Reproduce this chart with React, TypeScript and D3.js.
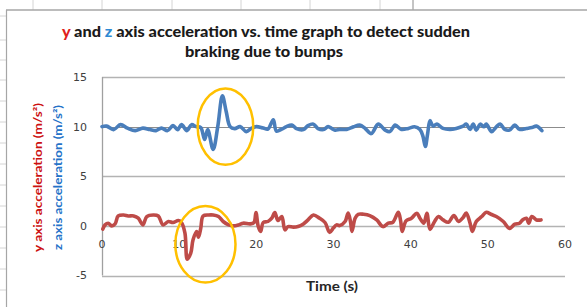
import React from 'react';
import * as d3 from 'd3';

// z axis acceleration (blue)
const timeZ = [0.0, 0.6, 1.5, 2.4, 3.3, 4.3, 5.3, 6.2, 7.0, 7.7, 8.5, 9.2, 9.8, 10.3, 11.0, 11.6, 12.2, 12.8, 13.3, 13.7, 14.4, 15.0, 15.6, 16.1, 16.6, 17.2, 17.9, 18.7, 19.4, 20.0, 20.9, 21.5, 22.2, 22.6, 23.3, 23.9, 24.6, 25.2, 26.1, 26.7, 27.4, 28.0, 28.7, 29.3, 29.8, 30.2, 30.8, 31.7, 32.6, 33.4, 34.1, 34.9, 35.8, 36.7, 37.3, 38.0, 38.8, 39.7, 40.5, 41.2, 41.6, 41.9, 42.2, 42.5, 42.9, 43.4, 44.2, 45.1, 45.9, 46.8, 47.2, 47.7, 48.1, 48.5, 49.0, 49.5, 49.8, 50.5, 51.1, 51.6, 52.2, 52.8, 53.5, 54.1, 55.0, 55.7, 56.3, 57.0];
const accelZ = [10.0, 10.05, 9.7, 10.2, 9.85, 9.6, 9.85, 9.7, 9.6, 9.85, 9.6, 10.1, 9.7, 10.2, 9.6, 10.2, 10.0, 9.9, 8.7, 9.7, 7.7, 10.0, 13.1, 11.5, 10.0, 9.8, 10.0, 9.5, 9.85, 10.0, 9.85, 9.75, 10.7, 9.55, 9.75, 10.0, 10.15, 9.8, 9.7, 10.1, 10.25, 9.8, 9.7, 10.0, 9.8, 9.65, 9.72, 9.72, 9.98, 10.15, 9.82, 9.3, 10.25, 9.65, 9.5, 10.15, 9.72, 9.82, 9.98, 9.72, 9.0, 8.0, 9.3, 10.6, 10.05, 10.25, 9.82, 9.72, 9.82, 10.05, 10.25, 9.72, 10.25, 9.65, 10.25, 9.98, 10.25, 9.5, 9.98, 10.25, 9.72, 9.65, 10.15, 9.72, 9.82, 9.9, 10.05, 9.6];

// y axis acceleration (red)
const timeY = [0.1, 0.4, 0.8, 1.25, 1.7, 2.1, 2.8, 3.4, 4.1, 4.7, 5.3, 5.8, 6.65, 7.3, 7.9, 8.6, 9.2, 9.9, 10.3, 10.75, 11.05, 11.5, 11.8, 12.26, 12.5, 12.8, 13.1, 13.8, 14.4, 15.1, 15.7, 16.4, 17.0, 17.7, 18.3, 19.2, 19.7, 19.95, 20.25, 20.55, 20.9, 21.5, 22.0, 22.4, 22.8, 23.3, 23.7, 24.1, 24.8, 25.4, 26.1, 26.7, 27.4, 28.2, 28.9, 29.5, 30.0, 30.4, 30.8, 31.5, 31.9, 32.2, 32.4, 32.8, 33.2, 33.9, 34.7, 35.6, 36.4, 37.1, 37.7, 38.4, 38.7, 38.9, 39.4, 40.1, 40.8, 41.2, 41.7, 42.1, 42.5, 43.1, 43.6, 44.2, 44.9, 45.6, 46.2, 46.8, 47.2, 47.7, 48.0, 48.5, 49.2, 49.8, 50.4, 51.1, 52.0, 52.8, 53.5, 54.1, 54.5, 55.0, 55.3, 55.7, 56.3, 56.9];
const accelY = [-0.33, 0.1, 0.27, 0.0, 0.2, 1.0, 1.1, 1.0, 1.0, 0.77, 0.1, 0.94, 1.1, 1.0, 0.1, 0.44, 0.34, 0.54, 0.34, -0.74, -3.35, -2.75, -1.4, -0.57, -1.14, -0.23, 1.0, 1.1, 1.1, 0.94, 0.44, 0.1, 0.0, 0.1, 0.27, 0.2, 0.34, 1.34, -0.07, -0.57, 0.34, 0.44, 0.77, 1.34, 0.54, 0.94, -0.4, -0.07, -0.13, -0.07, 0.2, 0.6, 1.1, 0.77, 0.34, -0.65, -0.2, 0.1, 0.03, 0.44, 1.3, 0.44, -0.55, 0.77, 1.17, 1.17, 1.04, 0.6, -0.07, 0.27, 0.37, 1.37, 0.5, -0.55, 0.5, 0.77, 1.27, 0.77, 0.27, 1.27, -0.35, 0.44, 0.94, 0.6, 0.37, 1.04, 0.44, 0.84, 1.3, 0.27, -0.55, 0.44, 0.94, 1.37, 1.17, 0.94, 0.44, -0.25, 0.17, 0.27, 0.6, 0.77, 0.27, 0.94, 0.6, 0.6];

const yTicks = [-5, 0, 5, 10, 15];
const xTicks = [0, 10, 20, 30, 40, 50, 60];

// highlight ellipses: [centerTime, centerValue, radiusTime, radiusValue]
const highlightZ = [16.0, 10.0, 3.6, 3.85];
const highlightY = [13.4, -1.85, 3.9, 3.85];

const sheetCols = [33, 102, 172, 241, 310, 380, 413];
const sheetRows = [16, 40, 60, 80, 101, 122, 143, 164, 185, 206, 227, 248, 269, 290];

export default function App() {
  const W = 587, H = 307;
  const x = d3.scaleLinear().domain([0, 60]).range([102, 565]);
  const y = d3.scaleLinear().domain([-5, 15]).range([275.5, 77]);

  const line = d3
    .line<[number, number]>()
    .x((d) => x(d[0]))
    .y((d) => y(d[1]))
    .curve(d3.curveCatmullRom.alpha(0.5));

  const zPts: [number, number][] = timeZ.map((t, i) => [t, accelZ[i]]);
  const yPts: [number, number][] = timeY.map((t, i) => [t, accelY[i]]);

  const ellipse = (h: number[]) => ({
    cx: x(h[0]),
    cy: y(h[1]),
    rx: x(h[2]) - x(0),
    ry: y(0) - y(h[3]),
  });
  const e1 = ellipse(highlightZ);
  const e2 = ellipse(highlightY);

  const tickFont = "'DejaVu Sans', Verdana, sans-serif";
  const titleFont = "Lato, 'Open Sans', sans-serif";

  return (
    <svg
      width={W}
      height={H}
      style={{ position: 'absolute', left: 0, top: 0, background: '#fff' }}
    >
      <rect x={0} y={0} width={W} height={H} fill="#fff" />
      {/* spreadsheet cell lines behind the chart */}
      {sheetCols.map((c, i) => (
        <line key={'c' + i} x1={c} x2={c} y1={0} y2={10} stroke={c === 413 ? '#8a8a8a' : '#d4d4d4'} strokeWidth={1} />
      ))}
      {sheetRows.map((r, i) => (
        <line key={'r' + i} x1={0} x2={6} y1={r} y2={r} stroke="#d4d4d4" strokeWidth={1} />
      ))}
      {/* chart frame */}
      <line x1={6} x2={W} y1={10} y2={10} stroke="#a6a6a6" strokeWidth={1.5} />
      <line x1={6.5} x2={6.5} y1={10} y2={H} stroke="#a6a6a6" strokeWidth={1.2} />

      {/* title */}
      <text x={266} y={37} textAnchor="middle" fontFamily={titleFont} fontWeight="900" fontSize={15} fill="#1a1a1a" textLength={408} lengthAdjust="spacingAndGlyphs">
        <tspan fill="#e0201b">y</tspan>
        <tspan> and </tspan>
        <tspan fill="#2f8ad3">z</tspan>
        <tspan> axis acceleration vs. time graph to detect sudden</tspan>
      </text>
      <text x={264} y={57} textAnchor="middle" fontFamily={titleFont} fontWeight="900" fontSize={15} fill="#1a1a1a" textLength={158} lengthAdjust="spacingAndGlyphs">
        braking due to bumps
      </text>

      {/* gridlines */}
      {yTicks.map((t) => (
        <line
          key={'g' + t}
          x1={x(0)}
          x2={x(60)}
          y1={Math.round(y(t)) + 0.5}
          y2={Math.round(y(t)) + 0.5}
          stroke={t === 10 ? '#8c8c8c' : '#b3b3b3'}
          strokeWidth={t === 10 ? 1 : 1.6}
        />
      ))}
      {/* left axis */}
      <line x1={x(0) + 0.5} x2={x(0) + 0.5} y1={y(15)} y2={y(-5)} stroke="#a0a0a0" strokeWidth={1.3} />

      {/* y tick labels */}
      {yTicks.map((t) => (
        <text key={'yl' + t} x={87} y={y(t)} dy="0.36em" textAnchor="end" fontFamily={tickFont} fontSize={11} fill="#404040">
          {t}
        </text>
      ))}
      {/* x tick labels */}
      {xTicks.map((t) => (
        <text key={'xl' + t} x={x(t)} y={248} textAnchor="middle" fontFamily={tickFont} fontSize={11} fill="#404040">
          {t}
        </text>
      ))}

      {/* series */}
      <path d={line(zPts) || ''} fill="none" stroke="#4a7ebb" strokeWidth={3.6} strokeLinejoin="round" strokeLinecap="round" />
      <path d={line(yPts) || ''} fill="none" stroke="#be4b48" strokeWidth={3.6} strokeLinejoin="round" strokeLinecap="round" />

      {/* highlight ellipses */}
      <ellipse cx={e1.cx} cy={e1.cy} rx={e1.rx} ry={e1.ry} fill="none" stroke="#ffc000" strokeWidth={2.5} />
      <ellipse cx={e2.cx} cy={e2.cy} rx={e2.rx} ry={e2.ry} fill="none" stroke="#ffc000" strokeWidth={2.5} />

      {/* axis titles */}
      <text transform="translate(41.5,177.5) rotate(-90)" textAnchor="middle" fontFamily={titleFont} fontWeight="bold" fontSize={11.5} fill="#cc1010" textLength={149} lengthAdjust="spacingAndGlyphs">
        y axis acceleration (m/s²)
      </text>
      <text transform="translate(61.5,177.5) rotate(-90)" textAnchor="middle" fontFamily={titleFont} fontWeight="bold" fontSize={11.5} fill="#2472c8" textLength={145} lengthAdjust="spacingAndGlyphs">
        z axis acceleration (m/s²)
      </text>
      <text x={332} y={291} textAnchor="middle" fontFamily={titleFont} fontWeight="bold" fontSize={13} fill="#262626" textLength={52} lengthAdjust="spacingAndGlyphs">
        Time (s)
      </text>
    </svg>
  );
}
